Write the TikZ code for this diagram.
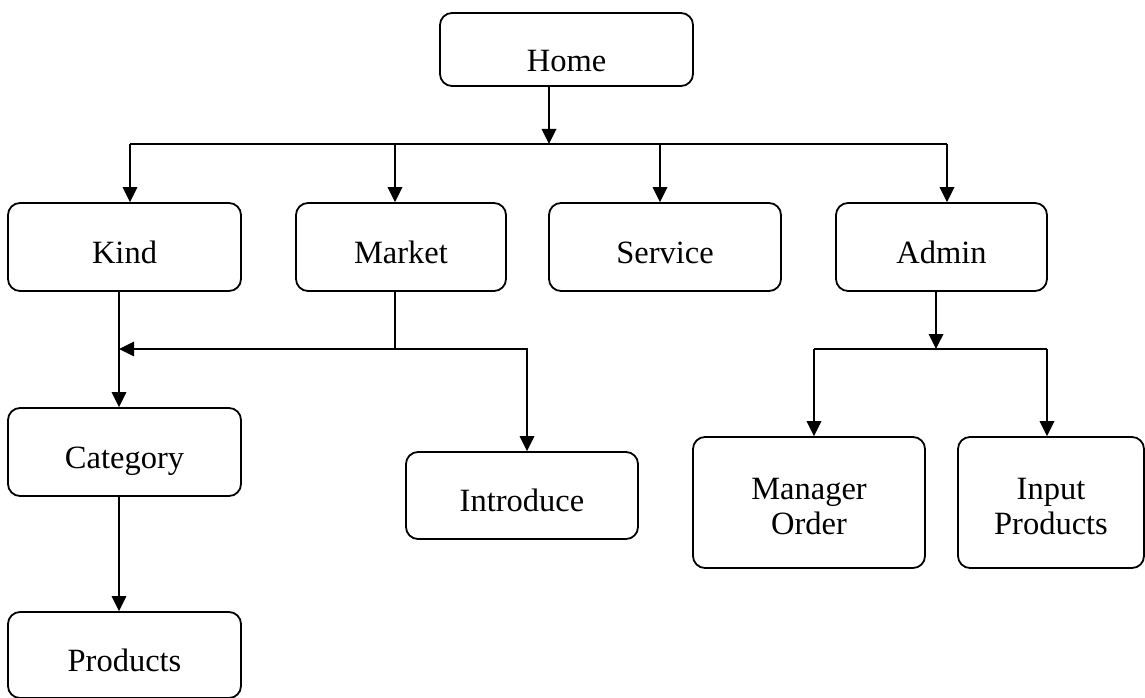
\documentclass[tikz,border=0pt]{standalone}
\usepackage{fontspec}
\setmainfont{Liberation Serif}
\usetikzlibrary{arrows.meta}
\newcommand\bt[2]{\raisebox{#1}[0pt][0pt]{#2}}
\newcommand\btt[3]{\raisebox{#1}[0pt][0pt]{\begin{tabular}[b]{@{}c@{}}#2\\#3\end{tabular}}}
\tikzset{
  box/.style={draw, line width=1.8pt, rounded corners=12pt, inner sep=0pt,
    align=center, font=\fontsize{32.5}{35}\selectfont},
  arr/.style={line width=1.8pt, -{Triangle[length=15pt,width=14.5pt]}},
  ln/.style={line width=1.8pt},
}
\begin{document}
\begin{tikzpicture}[x=1pt,y=-1pt]
\useasboundingbox (0,0) rectangle (1145,698);
% nodes
\node[box, minimum width=253pt, minimum height=73pt] (home) at (566.5,49.5) {\bt{-22pt}{Home}};
\node[box, minimum width=233pt, minimum height=88pt] (kind) at (124.5,247) {\bt{-16.3pt}{Kind}};
\node[box, minimum width=210pt, minimum height=88pt] (market) at (401,247) {\bt{-16.3pt}{Market}};
\node[box, minimum width=232pt, minimum height=88pt] (service) at (665,247) {\bt{-16.3pt}{Service}};
\node[box, minimum width=211pt, minimum height=88pt] (admin) at (941.5,247) {\bt{-16.3pt}{Admin}};
\node[box, minimum width=233pt, minimum height=88pt] (category) at (124.5,452) {\bt{-16.3pt}{Category}};
\node[box, minimum width=233pt, minimum height=86pt] (products) at (124.5,655) {\bt{-16.8pt}{Products}};
\node[box, minimum width=232pt, minimum height=87pt] (introduce) at (522,495.5) {\bt{-16.3pt}{Introduce}};
\node[box, minimum width=232pt, minimum height=131pt] (manager) at (809,502.5) {\btt{-32pt}{Manager}{Order}};
\node[box, minimum width=186pt, minimum height=131pt] (input) at (1051,502.5) {\btt{-32pt}{Input}{Products}};
% junction coordinates
\coordinate (hj) at (549,144);
\coordinate (tl) at (130,144);
\coordinate (tm) at (395,144);
\coordinate (ts) at (660,144);
\coordinate (tr) at (947,144);
\coordinate (kd) at (119,349);
\coordinate (mj) at (395,349);
\coordinate (ij) at (527,349);
\coordinate (aj) at (936,349);
\coordinate (al) at (814,349);
\coordinate (ar) at (1047,349);
% connectors
\draw[arr] (hj |- home.south) -- (hj);
\draw[ln] (tl) -- (tr);
\draw[arr] (tl) -- (tl |- kind.north);
\draw[arr] (tm) -- (tm |- market.north);
\draw[arr] (ts) -- (ts |- service.north);
\draw[arr] (tr) -- (tr |- admin.north);
\draw[arr] (kd |- kind.south) -- (kd |- category.north);
\draw[arr] (kd |- category.south) -- (kd |- products.north);
\draw[ln] (mj |- market.south) -- (mj);
\draw[arr] (mj) -- (kd);
\draw[arr] (mj) -| (ij |- introduce.north);
\draw[arr] (aj |- admin.south) -- (aj);
\draw[ln] (al) -- (ar);
\draw[arr] (al) -- (al |- manager.north);
\draw[arr] (ar) -- (ar |- input.north);
\end{tikzpicture}
\end{document}
